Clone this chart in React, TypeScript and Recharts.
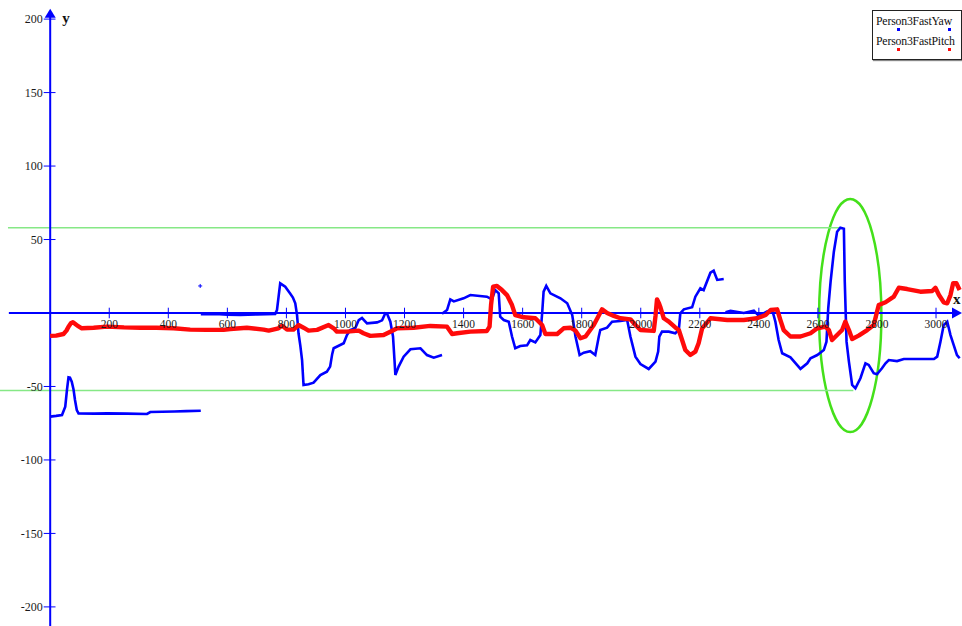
import React from 'react';
import {
  ComposedChart,
  Line,
  Scatter,
  XAxis,
  YAxis,
  ReferenceLine,
  ReferenceArea,
  ReferenceDot,
} from 'recharts';

// Person3FastYaw (blue) – null marks a gap in the trace
const yawX = [
  0, 20, 40, 51, 57, 62, 67, 73, 79, 84, 90, 96, 150, 192, 260, 328, 339, 420, 460, 510,
  510,
  510, 560, 600, 644, 700, 762, 768, 774, 779, 788, 796, 812, 822, 830, 836, 841, 847, 853, 858,
  875, 892, 915, 937, 948, 955, 960, 994, 1005, 1016, 1033, 1045, 1056, 1073, 1107, 1124, 1135,
  1141, 1152, 1161, 1166, 1169, 1180, 1197, 1220, 1254, 1276, 1299, 1327,
  1327,
  1327, 1344, 1355, 1367, 1400, 1423, 1479, 1496, 1507, 1519, 1524, 1536, 1553, 1564, 1575, 1592,
  1615, 1626, 1643, 1660, 1666, 1671, 1680, 1694, 1728, 1751, 1768, 1779, 1793, 1807, 1829, 1846,
  1858, 1863, 1886, 1903, 1931, 1954, 1965, 1982, 1999, 2027, 2050, 2059, 2063, 2072, 2095, 2117,
  2129, 2134, 2146, 2174, 2185, 2202, 2213, 2236, 2247, 2259, 2281,
  2284,
  2287, 2304, 2349, 2383, 2400, 2428, 2445, 2456, 2467, 2479, 2507, 2541, 2564, 2575, 2598, 2620,
  2629, 2635, 2643, 2654, 2665, 2676, 2688, 2691, 2697, 2705, 2716, 2727, 2744, 2761, 2772, 2789,
  2800, 2817, 2829, 2840, 2868, 2891, 2925, 2993, 3004, 3015, 3026, 3038, 3049, 3060, 3071, 3080,
];
const yawY = [
  -70.5, -70, -69.4, -63.8, -52, -43.8, -44, -46.7, -52, -59.2, -66, -68.3, -68.5, -68.3, -68.5, -68.7, -67.4, -67, -66.8, -66.5,
  null,
  -0.8, -0.6, -1.2, -1.3, -1, -0.6, 2, 12, 20.2, 19, 17.9, 13.4, 10.5, 6.6, -1.4, -13.8, -22, -32, -49,
  -48.5, -47.4, -42.2, -39.9, -36.5, -28, -24, -20.6, -15, -11.6, -10.4, -4.8, -3.4, -7, -6.4, -5, -0.2,
  -0.5, -5.9, -16, -32, -42.2, -36.5, -29.7, -24.7, -24, -28.6, -30.4, -28.6,
  null,
  -0.5, 2, 9.3, 7.9, 10, 12.2, 11.1, 9.3, 15.6, 13.4, -2.5, -4.8, -5.9, -16, -24, -22.5,
  -22, -18.4, -20, -15, -0.5, 14.5, 18.4, 13.4, 10, 6.6, -1.4, -16, -28.6, -27, -26, -28.6,
  -16, -11.6, -10, -5.9, -5.4, -4.8, -16, -29.7, -34.7, -38.1, -33.1, -26.3, -16, -12.7, -12.7, -13.8,
  -11.3, -0.2, 2.5, 3.9, 11.1, 16.8, 15.6, 27.4, 28.8, 22.5, 23.1,
  null,
  0.5, 1.4, 0, 1.6, -2, 1.1, 2.2, -5.9, -18.4, -27.4, -30.2, -38, -34.2, -30.8, -28.6, -25.2,
  -19.5, 3.2, 21.3, 41.7, 55.3, 58, 57.3, 21.3, -19.5, -33.1, -49, -51.3, -44.4, -34.2, -35.3, -41,
  -41.7, -37.6, -34.2, -32, -32.7, -31.3, -31.3, -31.3, -29.7, -19.5, -8.2, -5.9, -15, -21.8, -28.6, -30.8,
];
const yawStrayX = [508];
const yawStrayY = [18.4];

// Person3FastPitch (red)
const pitchX = [
  0, 20, 45, 55, 62, 70, 77, 85, 92, 107, 147, 192, 250, 305, 360, 418, 474, 530, 587, 610,
  644, 666, 723, 740, 773, 785, 802, 824, 841, 858, 875, 904, 943, 960, 971, 1005, 1045, 1061,
  1084, 1129, 1152, 1175, 1231, 1287, 1344, 1361, 1378, 1423, 1479, 1488, 1493, 1500, 1513, 1530,
  1547, 1564, 1575, 1604, 1643, 1666, 1677, 1717, 1739, 1762, 1779, 1796, 1813, 1841, 1869, 1886,
  1909, 1931, 1965, 1982, 1999, 2044, 2050, 2055, 2062, 2066, 2078, 2095, 2117, 2129, 2140, 2151,
  2168, 2185, 2196, 2208, 2236, 2293, 2349, 2394, 2423, 2440, 2462, 2473, 2484, 2507, 2541, 2575,
  2598, 2626, 2637, 2648, 2665, 2682, 2693, 2705, 2716, 2738, 2767, 2789, 2806, 2829, 2857, 2874,
  2902, 2947, 2987, 2998, 3010, 3026, 3038, 3049, 3058, 3069, 3080,
];
const pitchY = [
  -15.6, -15.4, -14.3, -12, -9.3, -7, -6.3, -7.5, -8.6, -10.4, -10, -9.3, -9.8, -10, -10, -10.4, -11.3, -11.5, -11.5, -10.9,
  -10.4, -10, -11.3, -12, -10.4, -8.6, -11.3, -11.3, -8.2, -10, -12, -11.5, -8.2, -10.4, -12.7, -12.7, -12, -13.8,
  -15.6, -15, -12.7, -10.4, -10, -8.8, -9.3, -14.3, -13.8, -12.7, -12.2, -9.3, 5.4, 17.9, 18.4, 15.6,
  12.2, 5.4, -1.4, -2.9, -3.6, -8.2, -14.3, -14.3, -10.4, -10, -12, -17.2, -16, -8.2, 2.5, 0,
  -2, -3.6, -4.3, -8.2, -11.6, -12.2, -2, 9.3, 6.5, 4.3, -3.6, -5.9, -9.8, -11.6, -18.4, -25.2,
  -28.6, -26.3, -20.6, -10.4, -3.6, -4.8, -4.8, -3.6, -1.4, 2, 2.5, -4.8, -11.6, -16, -16, -13.8,
  -10.4, -9.3, -11.6, -18.4, -15, -11.6, -5.9, -11.6, -17.7, -15.4, -11.6, -8.2, 5.4, 7.3, 11.1, 17.2,
  16.3, 14.5, 15, 17.2, 12.2, 7.3, 6.6, 12.2, 20.2, 20.2, 15.6,
];

const seriesNames = ['Person3FastYaw', 'Person3FastPitch'];

const xTicks = [200, 400, 600, 800, 1000, 1200, 1400, 1600, 1800, 2000, 2200, 2400, 2600, 2800, 3000];
const yTicks = [-200, -150, -100, -50, 50, 100, 150, 200];

// green annotation: band limits and the highlighted region
const bandTop = 58;
const bandBottom = -52.7;
const bandTopStart = -143;
const bandTopEnd = 2682;
const bandBottomEnd = 2720;
const ellipseX = [2604, 2815];
const ellipseY = [-81, 77.6];

const X_DOMAIN = [-170, 3088];
const Y_DOMAIN = [-213, 213];

const yawData = yawX.map((x, i) => ({ x, y: yawY[i] }));
const yawStray = yawStrayX.map((x, i) => ({ x, y: yawStrayY[i] }));
const pitchData = pitchX.map((x, i) => ({ x, y: pitchY[i] }));

const BLUE = '#0000ff';
const RED = '#ff0a0a';
const GREEN_LINE = '#86e886';
const GREEN_RING = '#44e01a';
const SERIF = '"Liberation Serif", "Times New Roman", serif';

const Cross = (props: any) => {
  const { cx, cy } = props;
  return (
    <g stroke={BLUE} strokeWidth={1}>
      <line x1={cx - 2} y1={cy} x2={cx + 2} y2={cy} />
      <line x1={cx} y1={cy - 2} x2={cx} y2={cy + 2} />
    </g>
  );
};

const UpArrow = (props: any) => {
  const { cx, cy } = props;
  return (
    <g>
      <polygon points={`${cx},${cy} ${cx - 5.5},${cy + 9} ${cx + 5.5},${cy + 9}`} fill={BLUE} />
      <text x={cx + 12} y={cy + 14} fontFamily={SERIF} fontWeight="bold" fontSize={15} fill="#111">
        y
      </text>
    </g>
  );
};

const RightArrow = (props: any) => {
  const { cx, cy } = props;
  return (
    <g>
      <polygon points={`${cx},${cy} ${cx - 10},${cy - 5.5} ${cx - 10},${cy + 5.5}`} fill={BLUE} />
      <text x={cx - 9} y={cy - 9} fontFamily={SERIF} fontWeight="bold" fontSize={15} fill="#111">
        x
      </text>
    </g>
  );
};

const Ring = (props: any) => {
  const { x, y, width, height } = props;
  return (
    <ellipse
      cx={x + width / 2}
      cy={y + height / 2}
      rx={width / 2}
      ry={height / 2}
      fill="none"
      stroke={GREEN_RING}
      strokeWidth={2.5}
    />
  );
};

// legend box in the top right corner, kept out of the chart layout
const LegendBox = () => (
  <div
    style={{
      position: 'absolute',
      left: 872,
      top: 10,
      width: 88,
      height: 48,
      border: '1.5px solid #222',
      boxShadow: '1px 1px 1px #888',
      background: '#fff',
      fontFamily: SERIF,
      fontSize: 11.8,
      letterSpacing: -0.2,
      color: '#111',
    }}
  >
    {seriesNames.map((name, i) => {
      const color = i === 0 ? BLUE : RED;
      return (
        <div key={name} style={{ position: 'absolute', left: 3, top: 4 + i * 20, width: 86 }}>
          <div style={{ lineHeight: '12px', whiteSpace: 'nowrap' }}>{name}</div>
          <div style={{ position: 'relative', height: 6 }}>
            <span style={{ position: 'absolute', left: 21, top: 1, width: 3, height: 3, background: color }} />
            <span style={{ position: 'absolute', left: 72, top: 1, width: 3, height: 3, background: color }} />
          </div>
        </div>
      );
    })}
  </div>
);

export default function App() {
  return (
    <div style={{ position: 'absolute', left: 0, top: 0, width: 962, height: 626, background: '#fff' }}>
      <ComposedChart width={962} height={626} margin={{ top: 0, right: 0, bottom: 0, left: 0 }}>
        <XAxis dataKey="x" type="number" domain={X_DOMAIN} allowDataOverflow hide />
        <YAxis dataKey="y" type="number" domain={Y_DOMAIN} allowDataOverflow hide />

        {/* green band limits */}
        <ReferenceLine
          segment={[{ x: bandTopStart, y: bandTop }, { x: bandTopEnd, y: bandTop }]}
          stroke={GREEN_LINE}
          strokeWidth={1.5}
          ifOverflow="visible"
        />
        <ReferenceLine
          segment={[{ x: X_DOMAIN[0], y: bandBottom }, { x: bandBottomEnd, y: bandBottom }]}
          stroke={GREEN_LINE}
          strokeWidth={1.5}
          ifOverflow="visible"
        />

        {/* axes through the origin */}
        <ReferenceLine
          segment={[{ x: -140, y: 0 }, { x: 3080, y: 0 }]}
          stroke={BLUE}
          strokeWidth={2}
          ifOverflow="visible"
        />
        <ReferenceLine
          segment={[{ x: 0, y: Y_DOMAIN[0] }, { x: 0, y: 202 }]}
          stroke={BLUE}
          strokeWidth={2}
          ifOverflow="visible"
        />
        {xTicks.map((t) => (
          <ReferenceLine
            key={`xt${t}`}
            segment={[{ x: t, y: -3.6 }, { x: t, y: 3.6 }]}
            stroke={BLUE}
            strokeWidth={1}
            ifOverflow="visible"
            label={{ value: String(t), position: 'bottom', offset: 2, fill: '#1a1a1a', fontSize: 11.5, fontFamily: SERIF }}
          />
        ))}
        {yTicks.map((t) => (
          <ReferenceLine
            key={`yt${t}`}
            segment={[{ x: -22, y: t }, { x: 18, y: t }]}
            stroke={BLUE}
            strokeWidth={1}
            ifOverflow="visible"
            label={{ value: String(t), position: 'left', offset: 1, fill: '#1a1a1a', fontSize: 12, fontFamily: SERIF }}
          />
        ))}

        <Line
          data={yawData}
          dataKey="y"
          type="linear"
          stroke={BLUE}
          strokeWidth={2.6}
          dot={false}
          activeDot={false}
          connectNulls={false}
          isAnimationActive={false}
          name={seriesNames[0]}
        />
        <Scatter data={yawStray} dataKey="y" fill={BLUE} shape={<Cross />} isAnimationActive={false} />
        <Line
          data={pitchData}
          dataKey="y"
          type="linear"
          stroke={RED}
          strokeWidth={4.4}
          strokeLinejoin="round"
          dot={false}
          activeDot={false}
          isAnimationActive={false}
          name={seriesNames[1]}
        />

        <ReferenceArea
          x1={ellipseX[0]}
          x2={ellipseX[1]}
          y1={ellipseY[0]}
          y2={ellipseY[1]}
          shape={<Ring />}
          ifOverflow="visible"
        />
        <ReferenceDot x={0} y={207} r={0} shape={<UpArrow />} ifOverflow="visible" />
        <ReferenceDot x={X_DOMAIN[1]} y={0} r={0} shape={<RightArrow />} ifOverflow="visible" />
      </ComposedChart>
      <LegendBox />
    </div>
  );
}
